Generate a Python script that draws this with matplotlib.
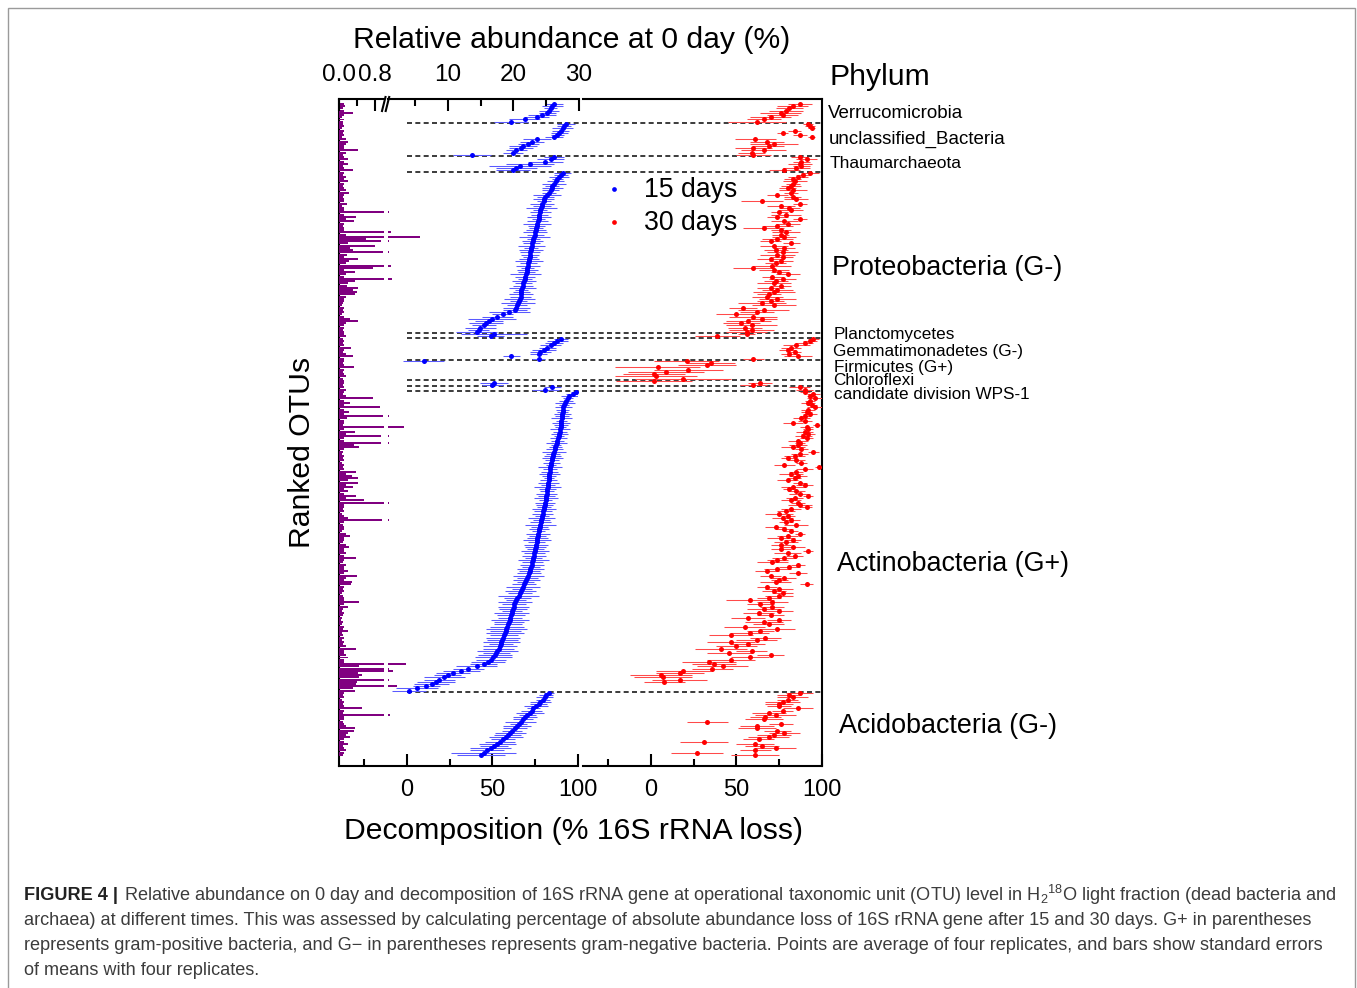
import numpy as np
import matplotlib
matplotlib.use('Agg')
import matplotlib.pyplot as plt
from matplotlib.lines import Line2D
from matplotlib.patches import Rectangle

plt.rcParams['font.family'] = ['Liberation Sans', 'DejaVu Sans']
plt.rcParams['mathtext.fontset'] = 'custom'
plt.rcParams['mathtext.rm'] = 'Liberation Sans'
plt.rcParams['mathtext.it'] = 'Liberation Sans:italic'
plt.rcParams['mathtext.bf'] = 'Liberation Sans:bold'

nan = np.nan

# phylum groups, top to bottom, with number of OTUs in each
phyla = ['Verrucomicrobia', 'unclassified_Bacteria', 'Thaumarchaeota',
         'Proteobacteria (G-)', 'Planctomycetes', 'Gemmatimonadetes (G-)',
         'Firmicutes (G+)', 'Chloroflexi', 'candidate division WPS-1',
         'Actinobacteria (G+)', 'Acidobacteria (G-)']
group_sizes = [9, 15, 7, 73, 2, 10, 9, 3, 2, 136, 29]

# relative abundance at 0 day (%)
abundance = [
    # Verrucomicrobia
    0.10, 0.14, 0.08, 0.12, 0.30, 0.10, 0.07, 0.12, 0.09,
    # unclassified_Bacteria
    0.08, 0.10, 0.06, 0.12, 0.08, 0.10, 0.07, 0.15, 0.20, 0.15, 0.10, 0.12, 0.42, 0.15, 0.08,
    # Thaumarchaeota
    0.12, 0.20, 0.10, 0.20, 0.08, 0.10, 0.30,
    # Proteobacteria
    0.12, 0.08, 0.15, 0.10, 0.20, 0.12, 0.08, 0.10, 0.15, 0.22,
    0.10, 0.08, 0.12, 0.10, 0.18, 0.07, 0.10, 0.12, 1.05, 0.12,
    0.38, 0.15, 0.34, 0.10, 0.08, 0.12, 0.10, 1.30, 0.15, 5.80,
    0.60, 0.93, 0.20, 0.80, 0.25, 0.30, 0.97, 0.18, 0.12, 0.43,
    0.23, 0.15, 1.30, 0.76, 0.12, 0.36, 0.15, 0.10, 1.40, 0.36,
    0.20, 0.18, 0.43, 0.30, 0.40, 0.36, 0.15, 0.10, 0.12, 0.08,
    0.06, 0.10, 0.08, 0.12, 0.07, 0.10, 0.25, 0.43, 0.15, 0.10,
    0.12, 0.08, 0.10,
    # Planctomycetes
    0.10, 0.15,
    # Gemmatimonadetes
    0.08, 0.10, 0.08, 0.12, 0.27, 0.10, 0.08, 0.15, 0.30, 0.10,
    # Firmicutes
    0.12, 0.08, 0.10, 0.33, 0.12, 0.08, 0.10, 0.15, 0.08,
    # Chloroflexi
    0.10, 0.12, 0.08,
    # WPS-1
    0.10, 0.15,
    # Actinobacteria
    0.12, 0.08, 0.15, 0.75, 0.10, 0.24, 0.12, 0.90, 0.10, 0.23,
    0.12, 0.97, 0.17, 0.10, 0.12, 0.08, 3.30, 0.12, 0.36, 0.15,
    0.93, 0.10, 0.12, 0.93, 0.33, 0.45, 0.10, 0.08, 0.06, 0.10,
    0.08, 0.12, 0.06, 0.10, 0.08, 0.12, 0.38, 0.15, 0.28, 0.43,
    0.20, 0.43, 0.15, 0.32, 0.12, 0.20, 0.10, 0.38, 0.15, 0.56,
    1.00, 0.12, 0.10, 0.08, 0.12, 0.06, 0.10, 0.21, 0.95, 0.10,
    0.08, 0.12, 0.10, 0.06, 0.15, 0.25, 0.10, 0.12, 0.08, 0.15,
    0.23, 0.10, 0.12, 0.15, 0.10, 0.38, 0.12, 0.08, 0.15, 0.12,
    0.10, 0.20, 0.12, 0.40, 0.15, 0.10, 0.28, 0.26, 0.12, 0.08,
    0.10, 0.06, 0.08, 0.12, 0.10, 0.44, 0.10, 0.21, 0.08, 0.06,
    0.10, 0.08, 0.06, 0.05, 0.08, 0.06, 0.10, 0.08, 0.19, 0.06,
    0.08, 0.10, 0.06, 0.12, 0.08, 0.15, 0.38, 0.10, 0.12, 0.15,
    0.19, 0.12, 0.10, 3.60, 0.45, 1.00, 1.60, 0.42, 0.50, 0.45,
    1.00, 0.40, 0.38, 2.20, 0.30, 0.35,
    # Acidobacteria
    0.10, 0.08, 0.12, 0.06, 0.10, 0.08, 0.12, 0.52, 0.10, 0.08,
    1.10, 0.10, 0.12, 0.08, 0.10, 0.15, 0.36, 0.33, 0.20, 0.15,
    0.25, 0.12, 0.10, 0.20, 0.08, 0.12, 0.15, 0.10, 0.08,
]

# decomposition after 15 days (%) and standard error
loss_15 = [
    86, 85, 84, 83, 82, 79, 76, 69, 61,
    93, 92, 91, 90, 89, 88, 86, 76, 73, 71, 68, 67, 64, 62, 38,
    86, 84, 81, 72, 66, 64, 62,
    91, 90, 89, 88, 87, 86, 85, 85, 84, 83,
    82, 81, 80, 80, 79, 79, 78.5, 78, 78, 77.5,
    77, 77, 76.5, 76, 76, 75.5, 75.5, 75, 75, 74.5,
    74, 73.5, 73, 73, 72.5, 72.5, 72, 72, 72, 71.5,
    71.5, 71, 71, 70.5, 70.5, 70, 69.5, 69, 69, 68.5,
    68, 68, 67.5, 67, 67, 66.5, 66.5, 66, 65.5, 65,
    64.5, 64, 63, 60, 56, 53, 50, 48, 46.5, 45,
    43, 42, 41,
    51, 49,
    90, 88, 86, 84, 82, 80, 78, 77, 61, 77,
    10, nan, nan, nan, nan, nan, nan, nan, nan,
    nan, 51, 50,
    85, 81,
    99, 97, 95, 94, 93, 92.5, 92, 91.5, 91, 91,
    90.8, 90.6, 90.5, 90.3, 90.1, 90, 89.8, 89.6, 89.5, 89.2,
    88.8, 88.4, 88, 87.6, 87.2, 86.8, 86.4, 86, 85.6, 85.3,
    85, 84.7, 84.4, 84.1, 83.9, 83.7, 83.5, 83.3, 83.1, 83,
    82.8, 82.7, 82.5, 82.3, 82.1, 81.9, 81.7, 81.5, 81.3, 81.1,
    80.8, 80.5, 80.2, 79.9, 79.6, 79.3, 79, 78.8, 78.5, 78.2,
    77.9, 77.6, 77.3, 77, 76.8, 76.5, 76.3, 76, 75.8, 75.5,
    75.3, 75, 74.8, 74.5, 74.3, 74, 73.8, 73.4, 73, 72.6,
    72.2, 71.8, 71.4, 71, 70.4, 69.8, 69.2, 68.6, 68, 67.2,
    66.6, 66, 65.3, 64.6, 63.9, 63.2, 62.8, 62.4, 62, 61.6,
    61.2, 60.8, 60.5, 60.2, 59.7, 59.2, 58.7, 58.2, 57.7, 57.3,
    56.8, 56.3, 55.8, 55.3, 54.8, 54.4, 53.7, 53, 52.3, 51.6,
    50.6, 49.2, 47.5, 45, 41, 36, 32, 27, 24, 22,
    19, 17, 14.5, 11.5, 6, 1.5,
    83, 81.5, 80.5, 79.5, 78, 77, 75.5, 74, 73, 72,
    70.5, 69, 68, 66.5, 65.5, 64.5, 63, 61.5, 60.5, 59,
    58, 56, 54.5, 53, 51, 49, 47, 45, 43.5,
]
se_15 = [
    5, 6, 4, 6, 5, 8, 7, 9, 10,
    5, 4, 6, 5, 5, 4, 5, 8, 7, 6, 8, 7, 6, 6, 11,
    6, 8, 10, 14, 18, 12, 10,
    5, 4, 6, 3, 5, 7, 4, 6, 5, 4,
    8, 5, 6, 4, 7, 5, 9, 4, 6, 5,
    7, 4, 6, 8, 5, 4, 6, 7, 5, 9,
    4, 6, 5, 8, 4, 7, 6, 5, 4, 6,
    8, 5, 7, 4, 6, 5, 9, 6, 4, 7,
    5, 6, 8, 4, 5, 7, 6, 9, 5, 10,
    6, 8, 7, 12, 6, 9, 14, 8, 10, 7,
    9, 6, 12,
    19, 8,
    4, 6, 5, 6, 5, 7, 6, 5, 5, 4,
    12, nan, nan, nan, nan, nan, nan, nan, nan,
    nan, 8, 6,
    5, 8,
    3, 4, 5, 3, 4, 6, 3, 5, 4, 3,
    5, 4, 6, 3, 5, 4, 3, 6, 4, 5,
    3, 5, 4, 6, 3, 4, 5, 7, 4, 5,
    6, 4, 5, 3, 7, 4, 5, 6, 4, 3,
    5, 6, 4, 8, 5, 4, 6, 5, 7, 4,
    6, 5, 4, 7, 5, 6, 4, 8, 5, 6,
    9, 5, 6, 4, 7, 5, 6, 8, 5, 7,
    6, 5, 8, 6, 7, 5, 9, 6, 7, 5,
    8, 6, 7, 9, 6, 8, 5, 7, 10, 6,
    9, 7, 12, 8, 6, 10, 7, 9, 8, 6,
    10, 8, 7, 11, 9, 8, 10, 12, 9, 11,
    8, 10, 9, 11, 7, 10, 9, 12, 8, 10,
    11, 9, 10, 8, 12, 9, 11, 10, 8, 12,
    9, 11, 10, 8, 12, 10,
    3, 4, 5, 4, 6, 5, 7, 4, 6, 8,
    5, 7, 6, 9, 5, 8, 7, 6, 9, 8,
    10, 7, 9, 11, 8, 12, 10, 19, 14,
]

# decomposition after 30 days (%) and standard error
loss_30 = [
    87, 83, 81, 79, 76, 77, 70, 66, 62,
    92, 93, 94, 84, 77, 87, 94, 61, 68, 72, 69, 60, 66, 59, 60,
    87, 91, 88, 87, 88, 85, 78,
    93, 89, 86, 83, 84, 83, 82, 80, 83, 82,
    74, 83, 85, 65, 87, 76, 81, 82, 75, 79,
    74, 87, 78, 80, 74, 66, 76, 79, 76, 78,
    74, 70, 82, 72, 78, 73, 77, 74, 77, 70,
    76, 73, 71, 60, 72, 75, 80, 71, 77, 73,
    72, 76, 70, 74, 72, 69, 68, 74, 70, 65,
    72, 54, 66, 62, 50, 60, 65, 57, 53, 59,
    55, 59, 56,
    56, 39,
    95, 93, 90, 85, 82, 80, 84, 81, 86, 60,
    21, 35, 33, 4, 22, 9, 2, 3, 19,
    2, 64, 60,
    87, 90,
    90, 95, 93, 96, 93, 92, 94, 96, 92, 91,
    93, 90, 88, 90, 83, 97, 91, 92, 90, 92,
    89, 91, 86, 87, 86, 83, 88, 95, 87, 84,
    80, 85, 88, 78, 98, 90, 85, 82, 86, 84,
    80, 87, 90, 83, 81, 85, 87, 92, 84, 82,
    86, 87, 91, 82, 79, 75, 80, 77, 82, 79,
    85, 73, 78, 82, 87, 80, 76, 83, 79, 76,
    83, 76, 92, 80, 84, 78, 74, 71, 86, 81,
    74, 68, 86, 70, 78, 75, 73, 91, 68, 75,
    72, 77, 75, 69, 58, 71, 64, 71, 66, 75,
    63, 70, 57, 75, 66, 69, 55, 74, 64, 58,
    47, 67, 62, 47, 57, 50, 41, 59, 46, 70,
    58, 47, 34, 37, 42, 36, 19, 17, 6, 7,
    17, 8, nan, nan, nan, nan,
    87, 81, 83, 80, 77, 75, 75, 86, 77, 69,
    73, 67, 66, 33, 76, 62, 62, 74, 78, 72,
    69, 63, 31, 61, 65, 73, 61, 27, 61,
]
se_30 = [
    7, 9, 8, 10, 12, 9, 12, 10, 17,
    3, 3, 2, 4, 3, 4, 2, 12, 10, 14, 9, 11, 13, 8, 10,
    5, 6, 5, 7, 5, 8, 9,
    5, 4, 6, 5, 7, 4, 6, 5, 8, 4,
    6, 5, 7, 12, 4, 8, 6, 7, 5, 9,
    6, 4, 8, 7, 9, 12, 6, 8, 5, 7,
    9, 6, 5, 8, 6, 7, 9, 10, 6, 8,
    7, 6, 11, 12, 9, 5, 7, 6, 8, 7,
    10, 6, 8, 9, 12, 7, 9, 11, 8, 14,
    13, 8, 15, 10, 12, 14, 9, 13, 11, 15,
    10, 13, 12,
    5, 13,
    3, 4, 5, 8, 6, 5, 4, 5, 8, 6,
    19, 14, 17, 25, 20, 22, 18, 24, 28,
    22, 7, 8,
    6, 5,
    3, 4, 2, 5, 3, 4, 3, 5, 4, 3,
    4, 3, 5, 4, 6, 2, 4, 3, 5, 4,
    5, 4, 6, 3, 5, 7, 4, 3, 5, 6,
    4, 5, 3, 6, 2, 5, 4, 7, 5, 4,
    6, 4, 5, 7, 4, 5, 6, 3, 5, 6,
    4, 7, 3, 6, 5, 8, 4, 6, 5, 4,
    7, 6, 5, 4, 3, 6, 8, 5, 7, 6,
    7, 6, 3, 8, 5, 7, 6, 9, 4, 6,
    8, 7, 5, 6, 7, 5, 9, 4, 6, 8,
    7, 6, 8, 7, 14, 9, 8, 7, 10, 8,
    9, 8, 10, 7, 11, 9, 12, 10, 8, 11,
    13, 9, 12, 14, 10, 12, 15, 9, 13, 8,
    11, 14, 16, 13, 15, 12, 16, 14, 18, 17,
    16, 12, nan, nan, nan, nan,
    8, 7, 9, 6, 10, 8, 7, 9, 6, 10,
    12, 9, 11, 12, 7, 10, 11, 8, 9, 10,
    12, 9, 14, 11, 10, 12, 9, 15, 14,
]

rows = np.arange(len(abundance))
edges = np.cumsum(group_sizes)

# ---- layout in pixels of the 1357x988 canvas ----
W, H = 1357, 988
TOP, BOT = 99, 766
row0, row_step = 104, 2.214
ylim = ((BOT - row0) / row_step, (TOP - row0) / row_step)


def box(x0, x1):
    return [x0 / W, 1 - BOT / H, (x1 - x0) / W, (BOT - TOP) / H]


fig = plt.figure(figsize=(W / 100, H / 100), dpi=100)
fig.add_artist(Rectangle((8 / W, -0.01), 1347 / W, 1.01 - 8 / H,
                         transform=fig.transFigure, fill=False,
                         edgecolor='#9a9a9a', lw=1))

ax_b = fig.add_axes(box(339, 578))
ax_r = fig.add_axes(box(583, 822))
ax_lo = fig.add_axes(box(339, 384))
ax_hi = fig.add_axes(box(388, 579))

for ax in (ax_b, ax_r, ax_lo, ax_hi):
    ax.set_facecolor('none')
    ax.set_ylim(*ylim)
    ax.set_yticks([])
    for s in ax.spines.values():
        s.set_linewidth(1.5)
        s.set_visible(False)

# abundance bars (broken axis)
for ax, lim in ((ax_lo, (0, 1.0)), (ax_hi, (0.84, 30))):
    ax.barh(rows, abundance, height=0.9, color='#800080', lw=0)
    ax.set_xlim(*lim)
    ax.spines['top'].set_visible(True)
    ax.xaxis.tick_top()
    ax.tick_params(axis='x', which='major', direction='in', length=8.6,
                   width=1.5, labelsize=17.5, pad=9.5)
    ax.tick_params(axis='x', which='minor', direction='in', length=5,
                   width=1.5)
ax_lo.set_xticks([0, 0.8], ['0.0', '0.8'])
ax_lo.set_xticks([0.4], minor=True)
ax_hi.set_xticks([10, 20, 30], ['10', '20', '30'])
ax_hi.set_xticks([5, 15, 25], minor=True)

# decomposition panels
for ax, vals, errs, col, ecol in ((ax_b, loss_15, se_15, 'blue', '#5a5aff'),
                                  (ax_r, loss_30, se_30, 'red', '#ff4a4a')):
    ax.errorbar(vals, rows, xerr=errs, fmt='o', ms=3.6, mfc=col, mec=col,
                mew=0, ecolor=ecol, elinewidth=0.75, capsize=0, zorder=3)
    ax.set_xlim(-39.5, 100)
    ax.spines['bottom'].set_visible(True)
    ax.set_xticks([0, 50, 100], ['0', '50', '100'])
    ax.set_xticks([-25, 25, 75], minor=True)
    ax.tick_params(axis='x', which='major', direction='in', length=8.6,
                   width=1.5, labelsize=17, pad=9.5)
    ax.tick_params(axis='x', which='minor', direction='in', length=5,
                   width=1.5)
ax_b.spines['left'].set_visible(True)
ax_r.spines['top'].set_visible(True)
ax_r.spines['right'].set_visible(True)

# phylum separators
for e in edges[:-1]:
    ax_b.axhline(e - 0.5, xmin=39.5 / 139.5, xmax=(822 - 339) / 239,
                 color='0.1', lw=1.2, ls=(0, (3, 2)), clip_on=False, zorder=1)

# axis break marks on the abundance axis
for x0 in (382, 385.7):
    fig.add_artist(Line2D([x0 / W, (x0 + 3.5) / W],
                          [1 - 111 / H, 1 - 97 / H],
                          transform=fig.transFigure, color='black', lw=1.5))

# phylum labels
label_rows = [4.5, 15.8, 27.1, 74.1, 104.3, 111.6, 119.2, 125.1, 131.4, 207.8, 280.9]
label_x = [828, 829, 830, 832, 834, 833, 834, 833, 834, 837, 839]
label_fs = [13.5, 13.5, 12.5, 19.4, 12.3, 12.3, 12.3, 12.3, 12.3, 19.4, 19.4]
ytr = ax_r.get_yaxis_transform()
for name, yr, xp, fs in zip(phyla, label_rows, label_x, label_fs):
    ax_r.text((xp - 583) / 239, yr, name, transform=ytr, fontsize=fs,
              ha='left', va='center', linespacing=1.0)

fig.text(830 / W, 1 - 77 / H, 'Phylum', fontsize=21.7, ha='left', va='center')
fig.text(571.5 / W, 1 - 40 / H, 'Relative abundance at 0 day (%)',
         fontsize=21.7, ha='center', va='center')
fig.text(573.5 / W, 1 - 831 / H, 'Decomposition (% 16S rRNA loss)',
         fontsize=21.7, ha='center', va='center')
fig.text(302 / W, 1 - 452 / H, 'Ranked OTUs', fontsize=21.7, rotation=90,
         ha='center', va='center')

# legend
for yp, col, txt in ((189, 'blue', '15 days'), (222, 'red', '30 days')):
    fig.add_artist(Line2D([614 / W], [1 - yp / H], marker='o', ms=3.4,
                          color=col, mew=0, transform=fig.transFigure))
    fig.text(644 / W, 1 - (yp + 1) / H, txt, fontsize=19.2, ha='left',
             va='center')

# caption
cap_col = '#3c3c3c'
fig.text(24 / W, 1 - 895 / H, 'FIGURE 4 |', fontsize=13.1, fontweight='bold',
         color='#222222', ha='left', va='center')
caption = [
    (124, 'Relative abundance on 0 day and decomposition of 16S rRNA gene at '
          'operational taxonomic unit (OTU) level in H$_2$$^{18}$O light '
          'fraction (dead bacteria and'),
    (24, 'archaea) at different times. This was assessed by calculating '
         'percentage of absolute abundance loss of 16S rRNA gene after 15 '
         'and 30 days. G+ in parentheses'),
    (24, 'represents gram-positive bacteria, and G\u2212 in parentheses '
         'represents gram-negative bacteria. Points are average of four '
         'replicates, and bars show standard errors'),
    (24, 'of means with four replicates.'),
]
for i, (xp, line) in enumerate(caption):
    fig.text(xp / W, 1 - (895 + 25 * i) / H, line, fontsize=13.1,
             color=cap_col, ha='left', va='center')

fig.savefig('out.png', dpi=100)
